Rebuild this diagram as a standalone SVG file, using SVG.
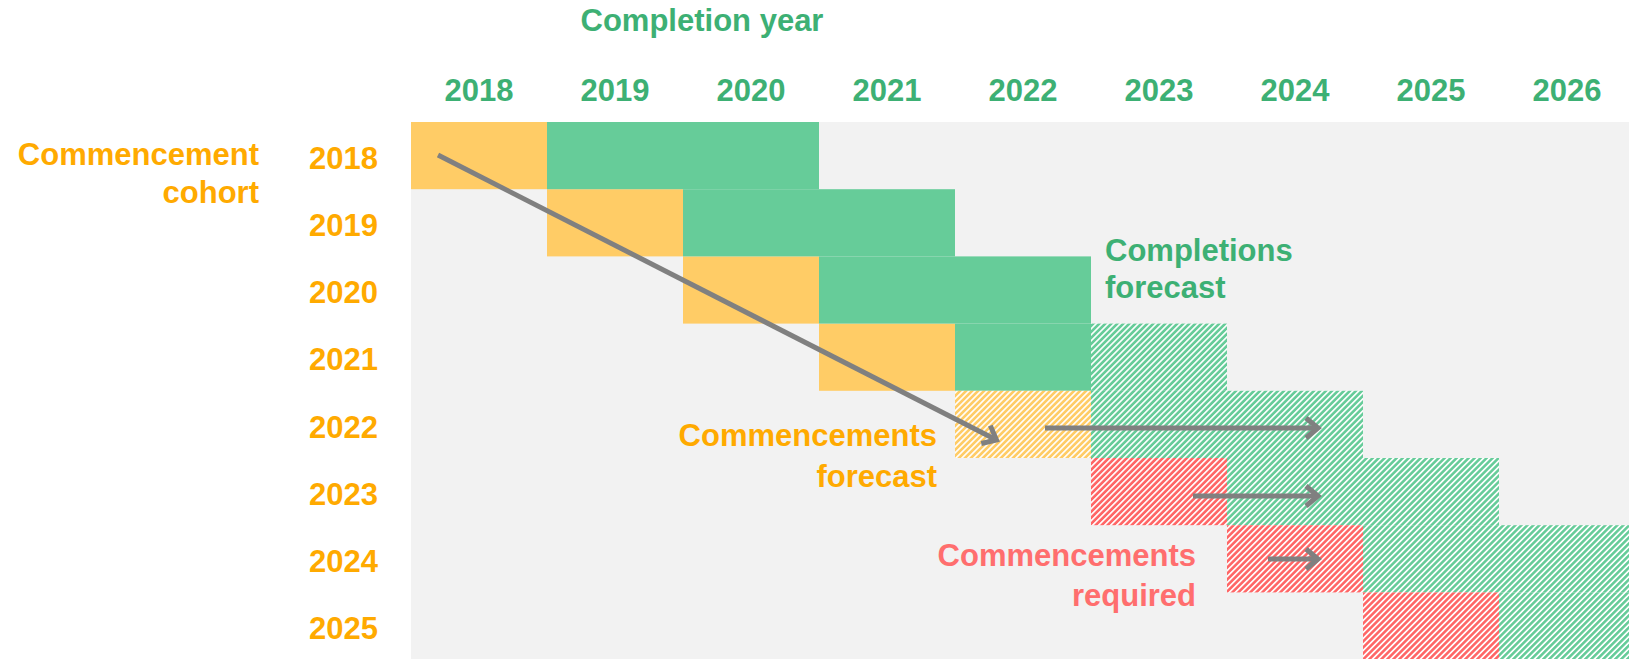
<svg xmlns="http://www.w3.org/2000/svg" width="1629" height="659" viewBox="0 0 1629 659">
<style>
text{font-family:"Liberation Sans",Arial,sans-serif;font-weight:bold;font-size:31px}
.g{fill:#3DB074}.o{fill:#FFAA00}.r{fill:#FF6E6E}
.hd{text-anchor:middle}.rl{text-anchor:end}
.fo{fill:#FFCC66}.fg{fill:#66CC99}
.ho{fill:url(#hatchO)}.hg{fill:url(#hatchG)}.hr{fill:url(#hatchR)}
.arr{stroke:#808080;stroke-width:5;fill:none;marker-end:url(#head)}
</style>
<defs>
<pattern id="hatchG" width="4.24" height="10" patternUnits="userSpaceOnUse" patternTransform="rotate(45)"><rect width="4.24" height="10" fill="#fff"/><rect width="2.6" height="10" fill="#66CC99"/></pattern>
<pattern id="hatchO" width="4.24" height="10" patternUnits="userSpaceOnUse" patternTransform="rotate(45)"><rect width="4.24" height="10" fill="#fff"/><rect width="2.6" height="10" fill="#FFCC66"/></pattern>
<pattern id="hatchR" width="4.24" height="10" patternUnits="userSpaceOnUse" patternTransform="rotate(45)"><rect width="4.24" height="10" fill="#fff"/><rect width="2.6" height="10" fill="#FF6666"/></pattern>
<marker id="head" viewBox="-6 -6 26 32" markerWidth="26" markerHeight="32" refX="12" refY="10" orient="auto" markerUnits="userSpaceOnUse">
<path d="M0,0 L12,10 L0,20" fill="none" stroke="#808080" stroke-width="5"/>
</marker>
</defs>
<rect id="background" x="411" y="122" width="1218" height="537" fill="#F2F2F2"/>
<g id="header">
<text class="g hd" x="702" y="31">Completion year</text>
<text class="g hd" x="479" y="101">2018</text>
<text class="g hd" x="615" y="101">2019</text>
<text class="g hd" x="751" y="101">2020</text>
<text class="g hd" x="887" y="101">2021</text>
<text class="g hd" x="1023" y="101">2022</text>
<text class="g hd" x="1159" y="101">2023</text>
<text class="g hd" x="1295" y="101">2024</text>
<text class="g hd" x="1431" y="101">2025</text>
<text class="g hd" x="1567" y="101">2026</text>
</g>
<g id="cohort-label">
<text class="o rl" x="259" y="165">Commencement</text>
<text class="o rl" x="259" y="203">cohort</text>
</g>
<g id="row-labels">
<text class="o rl" x="378" y="169">2018</text>
<text class="o rl" x="378" y="236">2019</text>
<text class="o rl" x="378" y="303">2020</text>
<text class="o rl" x="378" y="370">2021</text>
<text class="o rl" x="378" y="438">2022</text>
<text class="o rl" x="378" y="505">2023</text>
<text class="o rl" x="378" y="572">2024</text>
<text class="o rl" x="378" y="639">2025</text>
</g>
<g id="commencements-actual">
<rect class="fo" x="411" y="122" width="136" height="67.2"/>
<rect class="fo" x="547" y="189.2" width="136" height="67.2"/>
<rect class="fo" x="683" y="256.4" width="136" height="67.2"/>
<rect class="fo" x="819" y="323.6" width="136" height="67.2"/>
</g>
<g id="completions-actual">
<rect class="fg" x="547" y="122" width="272" height="67.2"/>
<rect class="fg" x="683" y="189.2" width="272" height="67.2"/>
<rect class="fg" x="819" y="256.4" width="272" height="67.2"/>
<rect class="fg" x="955" y="323.6" width="136" height="67.2"/>
</g>
<g id="commencements-forecast-cell">
<rect class="ho" x="955" y="390.8" width="136" height="67.2"/>
</g>
<g id="completions-forecast-cells">
<rect class="hg" x="1091" y="323.6" width="136" height="67.2"/>
<rect class="hg" x="1091" y="390.8" width="272" height="67.2"/>
<rect class="hg" x="1227" y="458" width="272" height="67.2"/>
<rect class="hg" x="1363" y="525.2" width="266" height="67.2"/>
<rect class="hg" x="1499" y="592.4" width="130" height="67"/>
</g>
<g id="commencements-required-cells">
<rect class="hr" x="1091" y="458" width="136" height="67.2"/>
<rect class="hr" x="1227" y="525.2" width="136" height="67.2"/>
<rect class="hr" x="1363" y="592.4" width="136" height="67"/>
</g>
<g id="connectors">
<line class="arr" x1="438" y1="155" x2="996.5" y2="440"/>
<line class="arr" x1="1045" y1="428" x2="1318" y2="428"/>
<line class="arr" x1="1193" y1="496" x2="1318" y2="496"/>
<line class="arr" x1="1268" y1="559" x2="1318" y2="559"/>
</g>
<g id="completions-forecast-label">
<text class="g" x="1105" y="261">Completions</text>
<text class="g" x="1105" y="298">forecast</text>
</g>
<g id="commencements-forecast-label">
<text class="o rl" x="937" y="446">Commencements</text>
<text class="o rl" x="937" y="487">forecast</text>
</g>
<g id="commencements-required-label">
<text class="r rl" x="1196" y="566">Commencements</text>
<text class="r rl" x="1196" y="606">required</text>
</g>
</svg>
